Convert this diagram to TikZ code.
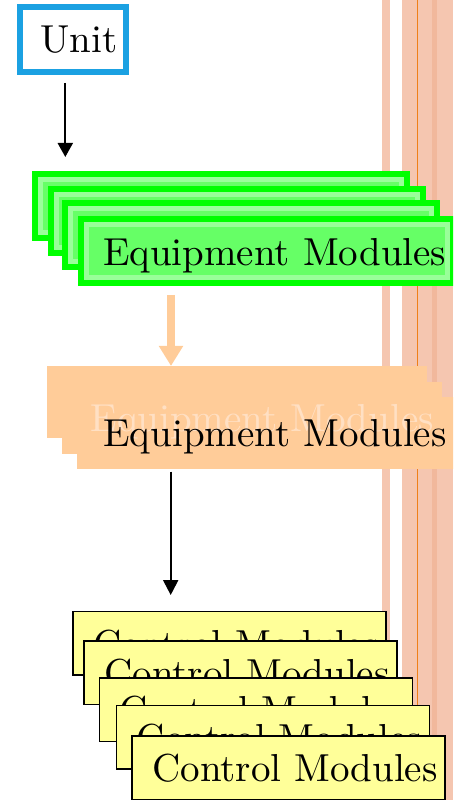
\documentclass[tikz,border=0pt]{standalone}
\usepackage{fontspec}
\setmainfont{lmroman10-regular.otf}
\usetikzlibrary{arrows.meta}
\definecolor{unitblue}{RGB}{27,161,226}
\definecolor{gborder}{RGB}{0,255,0}
\definecolor{gfill}{RGB}{102,255,102}
\definecolor{gstrip}{RGB}{153,255,153}
\definecolor{peach}{RGB}{255,204,153}
\definecolor{ghost}{RGB}{255,224,196}
\definecolor{yel}{RGB}{255,255,153}
\definecolor{salmon}{RGB}{245,198,176}
\definecolor{salmondk}{RGB}{241,184,156}
\definecolor{orangeline}{RGB}{240,128,24}
\begin{document}
\begin{tikzpicture}[x=1pt,y=1pt,
  every node/.style={font=\fontsize{39}{47}\selectfont, outer sep=0pt},
  unitbox/.style={draw=unitblue, line width=6pt, fill=white, minimum width=106pt, minimum height=65pt, inner sep=0pt},
  gbox/.style={draw=gborder, line width=6pt, fill=gfill, minimum width=372pt, minimum height=64pt, inner sep=0pt, text height=36.2pt, text depth=7.57pt,
     path picture={\draw[gstrip, line width=16pt] (path picture bounding box.south west) rectangle (path picture bounding box.north east);}},
  ebox/.style={fill=peach, minimum width=380pt, minimum height=72pt, inner sep=0pt, text height=35pt, text depth=7.57pt},
  cbox/.style={draw=black, line width=1.5pt, fill=yel, minimum width=312.9pt, minimum height=63.5pt, inner sep=0pt, text height=27.8pt, text depth=0pt},
  arr/.style={line width=2pt, -{Triangle[width=15pt,length=14pt]}},
  parr/.style={draw=peach, line width=8pt, -{Triangle[width=23pt,length=20pt]}},
  band/.style={fill=salmon, draw=none}
]
\useasboundingbox (0,0) rectangle (453,800);
\clip (0,0) rectangle (453,800);
% background bands
\path[band] (381.7,0) rectangle (390,800);
\path[band] (402.3,0) rectangle (453,800);
\path[fill=salmondk] (432,0) rectangle (437,800);
\draw[orangeline, line width=1.5pt] (417.3,0) -- (417.3,800);
% unit
\node[unitbox] (unit) at (73,760.5) {\hspace{12pt}Unit};
% equipment modules (green)
\node[gbox] (g1) at (221.3,594) {};
\node[gbox] (g2) at (236.7,579.3) {};
\node[gbox] (g3) at (251.3,564.7) {};
\node[gbox] (g4) at (266.7,549.3) {\hspace{16pt}Equipment Modules};
% equipment modules (peach)
\node[ebox] (e1) at (236.5,398) {};
\node[ebox] (e2) at (251.7,382.2) {};
\node[ebox, path picture={\node[text=ghost, text height=35pt, text depth=7.57pt, inner sep=0pt] at (e2.center) {\hspace{21pt}Equipment Modules};}] (e3) at (267,367) {\hspace{16pt}Equipment Modules};
% control modules
\node[cbox] (c1) at (229.5,156.8) {\hspace{13pt}Control Modules};
\node[cbox] (c2) at (240.5,127.2) {\hspace{13pt}Control Modules};
\node[cbox] (c3) at (256,90.2) {\hspace{13pt}Control Modules};
\node[cbox] (c4) at (273,62.5) {\hspace{13pt}Control Modules};
\node[cbox] (c5) at (288.5,32.2) {\hspace{13pt}Control Modules};
% connectors
\coordinate (a1) at (65.3,0);
\coordinate (a2) at (171,0);
\coordinate (a3) at (170.7,0);
\draw[arr, shorten <=11pt, shorten >=17pt] (unit.south -| a1) -- (g1.north -| a1);
\draw[parr, shorten <=12.3pt] (g4.south -| a2) -- (e1.north -| a2);
\draw[line width=2pt, -{Triangle[width=15pt,length=15pt]}, shorten <=2.7pt, shorten >=16.4pt] (e3.south -| a3) -- (c1.north -| a3);
\end{tikzpicture}
\end{document}
